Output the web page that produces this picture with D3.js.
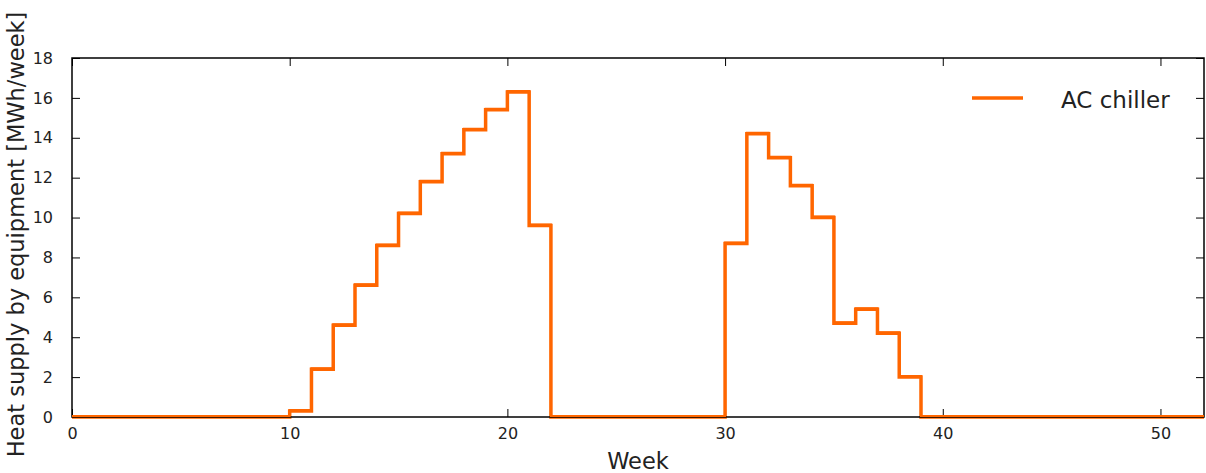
<!DOCTYPE html>
<html>
<head>
<meta charset="utf-8">
<script src="https://cdn.jsdelivr.net/npm/d3@7"></script>
<style>
  html, body { margin: 0; padding: 0; background: #fff; }
  svg { display: block; font-family: "DejaVu Sans", sans-serif; }
</style>
</head>
<body>
<svg id="chart" width="1206" height="473"></svg>
<script>
// Weekly heat supplied by the AC chiller, weeks 0..51
const weeks = d3.range(0, 52);
const acChiller = [
  0, 0, 0, 0, 0, 0, 0, 0, 0, 0,
  0.3, 2.4, 4.6, 6.6, 8.6, 10.2, 11.8, 13.2, 14.4, 15.4, 16.3, 9.6,
  0, 0, 0, 0, 0, 0, 0, 0,
  8.7, 14.2, 13.0, 11.6, 10.0, 4.7, 5.4, 4.2, 2.0,
  0, 0, 0, 0, 0, 0, 0, 0, 0, 0, 0, 0, 0
];
const xTicks = [0, 10, 20, 30, 40, 50];
const yTicks = [0, 2, 4, 6, 8, 10, 12, 14, 16, 18];
const seriesName = "AC chiller";
const seriesColor = "#ff6600";

const margin = { left: 72, right: 2, top: 58, bottom: 56 };
const W = 1206, H = 473;
const svg = d3.select("#chart");

const x = d3.scaleLinear().domain([0, 52]).range([margin.left, W - margin.right]);
const y = d3.scaleLinear().domain([0, 18]).range([H - margin.bottom, margin.top]);

// Step series: each week's value holds until the next week starts
const pts = weeks.map((w, i) => [w, acChiller[i]]);
pts.push([52, acChiller[acChiller.length - 1]]);

svg.append("defs").append("clipPath").attr("id", "plotClip")
  .append("rect")
  .attr("x", x(0)).attr("y", y(18) - 2)
  .attr("width", x(52) - x(0)).attr("height", y(0) - y(18) + 4);

const line = d3.line()
  .x(d => x(d[0]))
  .y(d => y(d[1]))
  .curve(d3.curveStepAfter);

// Axes with inward ticks on all four sides
const tickLen = 8;
const fmt = d3.format("d");

const gBottom = svg.append("g").attr("transform", `translate(0,${y(0)})`)
  .call(d3.axisBottom(x).tickValues(xTicks).tickFormat(fmt).tickSizeInner(-tickLen).tickSizeOuter(0).tickPadding(11));
const gTop = svg.append("g").attr("transform", `translate(0,${y(18)})`)
  .call(d3.axisTop(x).tickValues(xTicks).tickFormat("").tickSizeInner(-tickLen).tickSizeOuter(0));
const gLeft = svg.append("g").attr("transform", `translate(${x(0)},0)`)
  .call(d3.axisLeft(y).tickValues(yTicks).tickFormat(fmt).tickSizeInner(-tickLen).tickSizeOuter(0).tickPadding(19));
const gRight = svg.append("g").attr("transform", `translate(${x(52)},0)`)
  .call(d3.axisRight(y).tickValues(yTicks).tickFormat("").tickSizeInner(-tickLen).tickSizeOuter(0));

[gBottom, gTop, gLeft, gRight].forEach(g => {
  g.select(".domain").remove();
  g.selectAll(".tick line").attr("stroke", "#000").attr("stroke-width", 1);
  g.selectAll(".tick text").attr("fill", "#222").style("font-size", "16px")
    .style("font-family", "'DejaVu Sans', sans-serif");
});
gBottom.selectAll(".tick text").attr("dy", "0.71em");

// Data line
svg.append("path")
  .datum(pts)
  .attr("clip-path", "url(#plotClip)")
  .attr("fill", "none")
  .attr("stroke", seriesColor)
  .attr("stroke-width", 3.5)
  .attr("stroke-linejoin", "miter")
  .attr("d", line);

// Frame
svg.append("rect")
  .attr("x", x(0)).attr("y", y(18))
  .attr("width", x(52) - x(0)).attr("height", y(0) - y(18))
  .attr("fill", "none").attr("stroke", "#000").attr("stroke-width", 1.5);

// Re-draw the line just above the frame so zero segments stay visible
svg.append("path")
  .datum(pts)
  .attr("clip-path", "url(#plotClip)")
  .attr("fill", "none")
  .attr("stroke", seriesColor)
  .attr("stroke-width", 2)
  .attr("transform", "translate(0,-1)")
  .attr("d", line);

// Axis titles
svg.append("text")
  .attr("x", (x(0) + x(52)) / 2).attr("y", 469)
  .attr("text-anchor", "middle")
  .attr("fill", "#222")
  .style("font-size", "22.5px")
  .text("Week");

svg.append("text")
  .attr("transform", `translate(24,${(y(0) + y(18)) / 2 - 3}) rotate(-90)`)
  .attr("text-anchor", "middle")
  .attr("fill", "#222")
  .style("font-size", "22.5px")
  .text("Heat supply by equipment [MWh/week]");

// Legend
const lg = svg.append("g").attr("transform", "translate(972,98)");
lg.append("line").attr("x1", 0).attr("x2", 51).attr("y1", 0).attr("y2", 0)
  .attr("stroke", seriesColor).attr("stroke-width", 3.5);
lg.append("text").attr("x", 89).attr("y", 2).attr("dy", "0.35em")
  .attr("fill", "#222").style("font-size", "23px").text(seriesName);
</script>
</body>
</html>
